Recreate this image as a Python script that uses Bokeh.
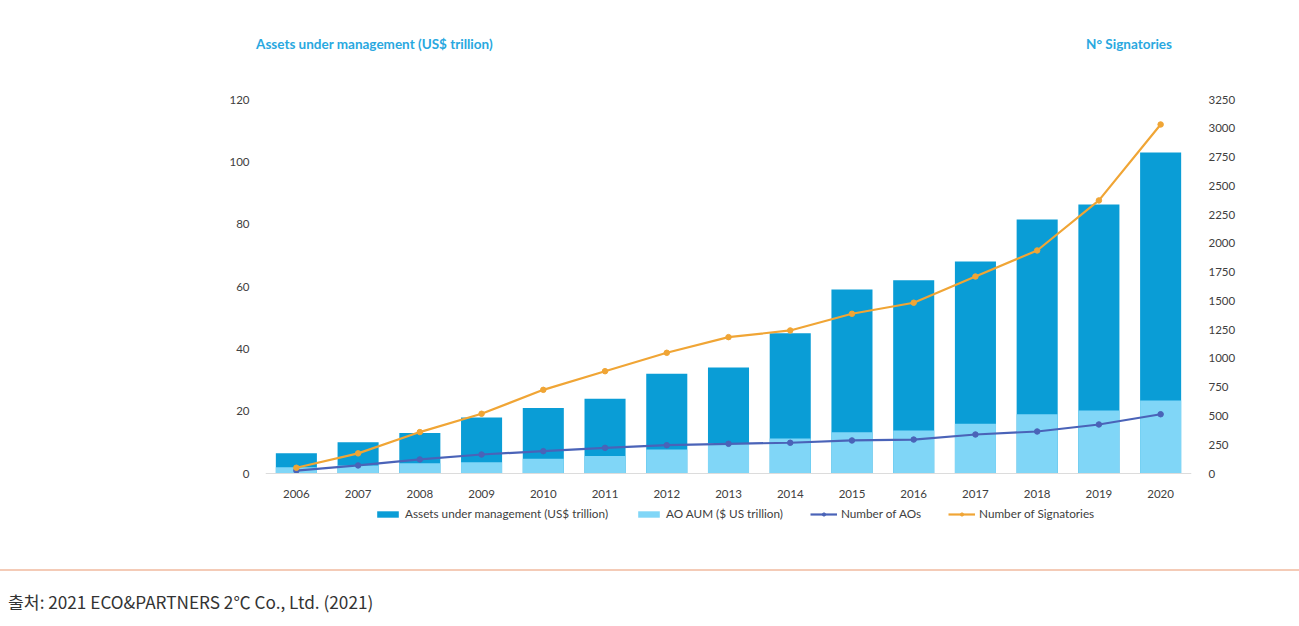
from bokeh.plotting import figure
from bokeh.models import (ColumnDataSource, FactorRange, Range1d, LinearAxis, FixedTicker,
                          Legend, LegendItem, Div)
from bokeh.layouts import column
from bokeh.embed import file_html
from bokeh.resources import INLINE

years = ["2006", "2007", "2008", "2009", "2010", "2011", "2012", "2013",
         "2014", "2015", "2016", "2017", "2018", "2019", "2020"]
aum = [6.5, 10, 13, 18, 21, 24, 32, 34, 45, 59, 62, 68, 81.5, 86.3, 103]
ao_aum = [2, 2.6, 3.3, 3.6, 4.7, 5.6, 7.7, 9.8, 11.2, 13.2, 13.8, 16, 19, 20.2, 23.4]
ao_count = [25, 70, 122, 165, 194, 223, 246, 258, 267, 287, 295, 339, 365, 426, 515]
signatories = [50, 175, 360, 519, 727, 889, 1049, 1185, 1243, 1388, 1484, 1712, 1938, 2373, 3033]
left_ticks = [0, 20, 40, 60, 80, 100, 120]
right_ticks = list(range(0, 3251, 250))

FONT = "Lato"
DARK = "#0a9dd6"
LIGHT = "#80d6f7"
AOC = "#4a63b8"
SIGC = "#f0a535"
TXT = "#404040"
TITLEC = "#29a8e0"

# layout geometry (pixels)
HEADER_H = 60
BORDER_TOP = 20
FRAME_H = 460
BORDER_BOTTOM = 28
ZERO_ABOVE_BOTTOM = 67   # y=0 sits this far above frame bottom
AXIS_SPAN_PX = 374       # pixel length from 0 to axis max
L_MAX, R_MAX = 120, 3250
top_pad = FRAME_H - ZERO_ABOVE_BOTTOM - AXIS_SPAN_PX
l_start = -ZERO_ABOVE_BOTTOM * L_MAX / AXIS_SPAN_PX
l_end = L_MAX + top_pad * L_MAX / AXIS_SPAN_PX
r_start = -ZERO_ABOVE_BOTTOM * R_MAX / AXIS_SPAN_PX
r_end = R_MAX + top_pad * R_MAX / AXIS_SPAN_PX

src = ColumnDataSource(dict(years=years, aum=aum, ao_aum=ao_aum,
                            ao_count=ao_count, sig=signatories))

p = figure(width=1299, height=BORDER_TOP + FRAME_H + BORDER_BOTTOM,
           x_range=FactorRange(*years), y_range=Range1d(l_start, l_end),
           output_backend="svg", toolbar_location=None,
           min_border_left=265, min_border_right=108,
           min_border_top=BORDER_TOP, min_border_bottom=BORDER_BOTTOM)
p.extra_y_ranges = {"sig": Range1d(r_start, r_end)}
p.outline_line_color = None
p.xgrid.grid_line_color = None
p.ygrid.grid_line_color = None
p.background_fill_color = "white"
p.border_fill_color = "white"

r_aum = p.vbar(x="years", top="aum", width=0.665, source=src, fill_color=DARK, line_color=None)
r_ao = p.vbar(x="years", top="ao_aum", width=0.665, source=src, fill_color=LIGHT, line_color=None)
l_ao = p.line(x="years", y="ao_count", source=src, y_range_name="sig", line_color=AOC, line_width=2.2)
m_ao = p.scatter(x="years", y="ao_count", source=src, y_range_name="sig", size=5.5,
                 fill_color=AOC, line_color=AOC)
l_sig = p.line(x="years", y="sig", source=src, y_range_name="sig", line_color=SIGC, line_width=2.2)
m_sig = p.scatter(x="years", y="sig", source=src, y_range_name="sig", size=5.5,
                  fill_color=SIGC, line_color=SIGC)

# axes
xa = p.xaxis[0]
xa.fixed_location = 0
xa.axis_line_color = "#dcdcdc"
xa.major_tick_line_color = None
xa.minor_tick_line_color = None
xa.major_label_text_font = FONT
xa.major_label_text_font_size = "11.5px"
xa.major_label_text_color = TXT
xa.major_label_standoff = 10

ya = p.yaxis[0]
ya.ticker = FixedTicker(ticks=left_ticks)
ya.axis_line_color = None
ya.major_tick_line_color = None
ya.minor_tick_line_color = None
ya.major_label_text_font = FONT
ya.major_label_text_font_size = "11.5px"
ya.major_label_text_color = TXT
ya.major_label_standoff = 10

ra = LinearAxis(y_range_name="sig", ticker=FixedTicker(ticks=right_ticks))
ra.axis_line_color = None
ra.major_tick_line_color = None
ra.minor_tick_line_color = None
ra.major_label_text_font = FONT
ra.major_label_text_font_size = "11.5px"
ra.major_label_text_color = TXT
ra.major_label_standoff = 11
p.add_layout(ra, "right")

legend = Legend(items=[
    LegendItem(label="Assets under management (US$ trillion)", renderers=[r_aum]),
    LegendItem(label="AO AUM ($ US trillion)", renderers=[r_ao]),
    LegendItem(label="Number of AOs", renderers=[l_ao, m_ao]),
    LegendItem(label="Number of Signatories", renderers=[l_sig, m_sig]),
], orientation="horizontal", location=(109, 19))
legend.label_text_font = FONT
legend.label_text_font_size = "11.75px"
legend.label_text_color = TXT
legend.glyph_width = 27
legend.glyph_height = 8
legend.label_standoff = 4
legend.spacing = 27
legend.padding = 8
legend.margin = 0
legend.border_line_color = None
legend.background_fill_alpha = 0
p.add_layout(legend)

header = Div(text=(
    '<div style="position:relative;width:1299px;height:60px;font-family:Lato;'
    'font-weight:bold;font-size:13.5px;line-height:16px;color:' + TITLEC + ';">'
    '<span style="position:absolute;left:256px;top:36px;white-space:nowrap;">'
    'Assets under management (US$ trillion)</span>'
    '<span style="position:absolute;right:127px;top:36px;white-space:nowrap;">'
    'N° Signatories</span></div>'),
    width=1299, height=HEADER_H, margin=(0, 0, 0, 0))

footer = Div(text=(
    '<div style="width:1299px;margin-top:1px;border-top:2px solid #f4cbb7;"></div>'
    '<div style="padding-top:20px;padding-left:8px;font-family:\'Noto Sans CJK KR\';'
    'font-size:17.2px;line-height:22px;color:#333333;">'
    '출처: 2021 ECO&amp;PARTNERS 2℃ Co., Ltd. (2021)</div>'),
    width=1299, height=56, margin=(0, 0, 0, 0))

layout = column(header, p, footer, spacing=0)
open("out.html", "w").write(file_html(layout, INLINE))
